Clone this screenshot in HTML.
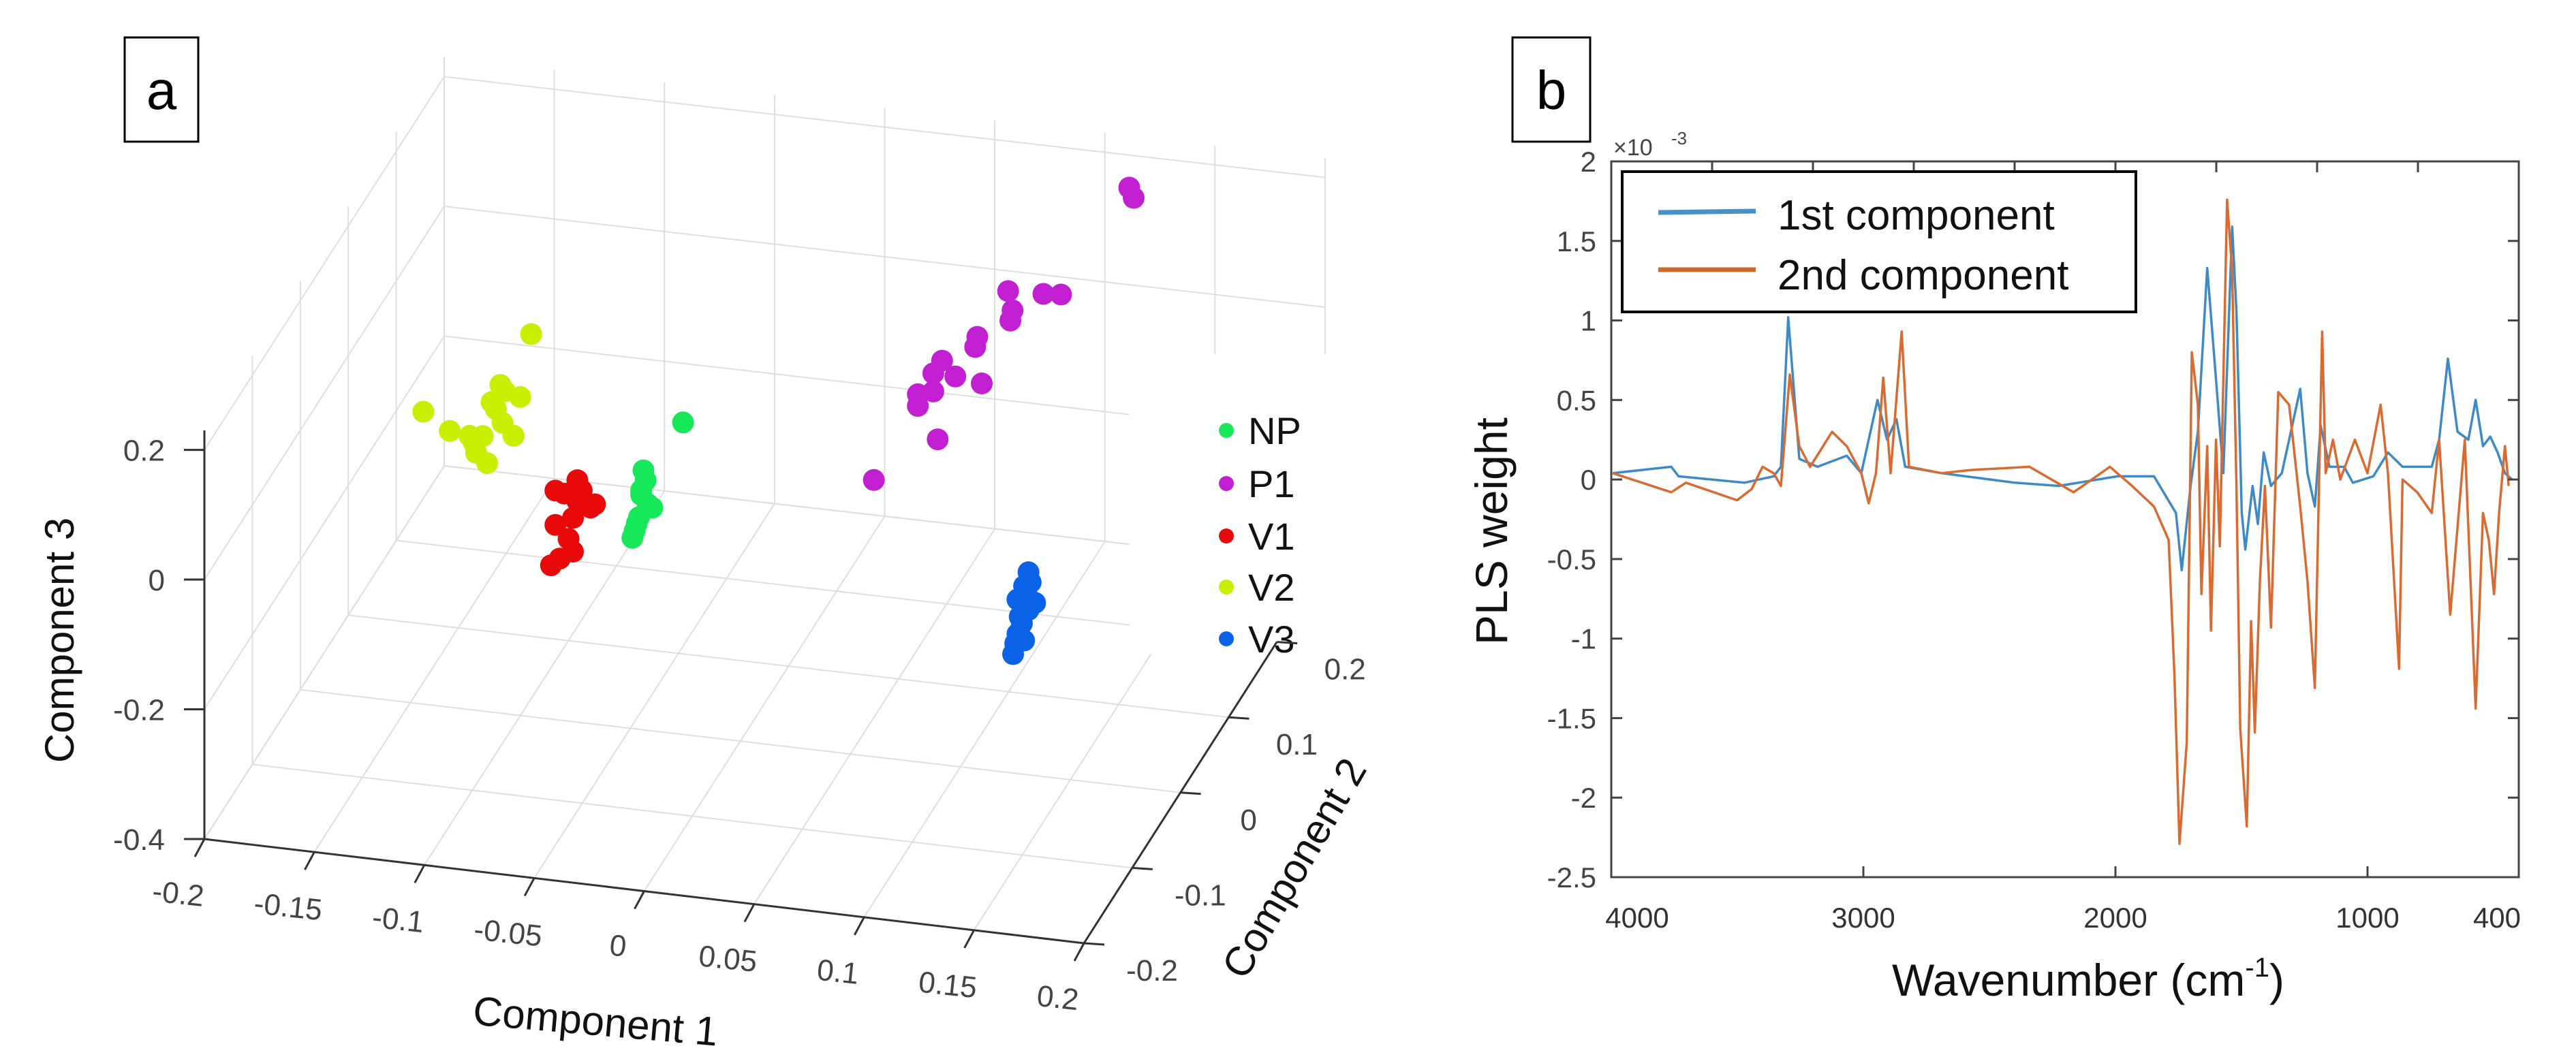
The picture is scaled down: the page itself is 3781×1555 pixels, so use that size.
<!DOCTYPE html>
<html><head><meta charset="utf-8"><style>
html,body{margin:0;padding:0;background:#fff;}
svg{display:block;font-family:"Liberation Sans",sans-serif;}
</style></head><body>
<svg id="fig" width="3781" height="1555" viewBox="0 0 3781 1555" xmlns="http://www.w3.org/2000/svg">
<rect width="3781" height="1555" fill="#fff"/>
<g id="panelA"></g>
<g id="panelB"></g>
</svg>
<script>
// ---------- Panel A data (Component 1, Component 2, Component 3) ----------
const groupNames = ["NP","P1","V1","V2","V3"];
const groupColors = ["#17e85a","#c21fd2","#e80a0a","#c6f000","#0a62e6"];
const npC1 = [-0.055,-0.056,-0.053,-0.057,-0.059,-0.060,-0.051,-0.054,-0.037,-0.056,-0.058];
const npC2 = [0.05,0.05,0.05,0.05,0.05,0.05,0.05,0.05,0.05,0.05,0.05];
const npC3 = [-0.062,-0.093,-0.113,-0.135,-0.157,-0.168,-0.118,-0.077,0.019,-0.100,-0.145];
const p1C1 = [0.122,0.124,0.067,0.069,0.068,0.083,0.091,0.053,0.052,0.037,0.033,0.026,0.026,0.033,0.043,0.055,0.035,0.006];
const p1C2 = [0.25,0.25,0.25,0.25,0.25,0.25,0.25,0.25,0.25,0.25,0.25,0.25,0.25,0.25,0.25,0.25,0.25,0.25];
const p1C3 = [0.212,0.197,0.031,0.002,-0.014,0.033,0.035,-0.045,-0.061,-0.088,-0.109,-0.144,-0.162,-0.137,-0.110,-0.116,-0.210,-0.284];
const v1C1 = [-0.095,-0.085,-0.079,-0.087,-0.095,-0.089,-0.087,-0.093,-0.097,-0.085,-0.091,-0.083,-0.077];
const v1C2 = [0.05,0.05,0.05,0.05,0.05,0.05,0.05,0.05,0.05,0.05,0.05,0.05,0.05];
const v1C3 = [-0.109,-0.089,-0.129,-0.148,-0.162,-0.181,-0.200,-0.213,-0.225,-0.121,-0.112,-0.104,-0.123];
const v2C1 = [-0.106,-0.155,-0.143,-0.120,-0.111,-0.114,-0.126,-0.132,-0.122,-0.119,-0.128,-0.131,-0.124,-0.134,-0.118];
const v2C2 = [0.05,0.05,0.05,0.05,0.05,0.05,0.05,0.05,0.05,0.05,0.05,0.05,0.05,0.05,0.05];
const v2C3 = [0.128,-0.011,-0.036,0.044,0.029,-0.032,-0.079,-0.050,0.006,-0.014,-0.038,-0.065,0.016,-0.040,0.035];
const v3C1 = [0.120,0.118,0.115,0.120,0.117,0.115,0.114,0.118,0.113,0.119,0.123,0.116,0.121];
const v3C2 = [0.05,0.05,0.05,0.05,0.05,0.05,0.05,0.05,0.05,0.05,0.05,0.05,0.05];
const v3C3 = [-0.150,-0.172,-0.194,-0.208,-0.230,-0.247,-0.262,-0.256,-0.279,-0.183,-0.196,-0.220,-0.165];
const c1Ticks = [-0.2,-0.15,-0.1,-0.05,0,0.05,0.1,0.15,0.2];
const c1TickLabels = ["-0.2","-0.15","-0.1","-0.05","0","0.05","0.1","0.15","0.2"];
const c2Ticks = [-0.2,-0.1,0,0.1,0.2,0.3];
const c2TickLabels = ["-0.2","-0.1","0","0.1","0.2",""];
const c3Ticks = [-0.4,-0.2,0,0.2];
const c3TickLabels = ["-0.4","-0.2","0","0.2"];

// ---------- Panel B data ----------
const wn1 = [3994,3762,3733,3472,3356,3327,3298,3254,3182,3066,3008,2944,2906,2869,2834,2689,2399,2225,1992,1847,1760,1737,1702,1673,1636,1601,1572,1537,1520,1499,1485,1456,1435,1412,1383,1340,1267,1238,1209,1186,1151,1093,1058,977,919,861,745,716,681,643,600,571,542,513,484,455,426];
const w1 = [0.04,0.08,0.02,-0.02,0.02,0.08,1.02,0.13,0.08,0.15,0.04,0.50,0.25,0.38,0.08,0.04,-0.02,-0.04,0.02,0.02,-0.21,-0.57,-0.04,0.30,1.33,0.63,0.04,1.59,1.06,-0.21,-0.44,-0.04,-0.28,0.17,-0.04,0.04,0.57,0.04,-0.17,0.34,0.08,0.08,-0.02,0.02,0.17,0.08,0.08,0.25,0.76,0.30,0.25,0.50,0.21,0.27,0.17,0.04,0.0];
const wn2 = [3994,3762,3704,3501,3443,3400,3356,3327,3292,3254,3211,3124,3066,3008,2979,2950,2921,2892,2848,2819,2689,2573,2341,2166,2022,1934,1847,1789,1766,1746,1717,1697,1673,1659,1636,1621,1601,1586,1557,1537,1520,1505,1479,1462,1447,1427,1407,1383,1354,1311,1267,1238,1209,1180,1166,1137,1108,1050,1000,948,919,875,861,803,745,716,672,614,571,542,519,498,478,455,440];
const w2 = [0.04,-0.08,-0.02,-0.13,-0.06,0.08,0.04,-0.04,0.66,0.21,0.08,0.30,0.21,0.04,-0.15,0.04,0.64,0.04,0.93,0.08,0.04,0.06,0.08,-0.08,0.08,-0.04,-0.17,-0.38,-1.23,-2.29,-1.65,0.80,0.47,-0.72,0.21,-0.95,0.25,-0.42,1.76,1.31,-0.04,-1.57,-2.18,-0.89,-1.59,-0.64,-0.04,-0.93,0.55,0.47,-0.17,-0.64,-1.31,0.93,0.04,0.25,0.0,0.25,0.04,0.47,0.04,-1.19,0.0,-0.08,-0.21,0.25,-0.85,0.25,-1.44,-0.21,-0.38,-0.72,-0.21,0.21,-0.04];
const bYTicks = [2,1.5,1,0.5,0,-0.5,-1,-1.5,-2,-2.5];
const bYTickLabels = ["2","1.5","1","0.5","0","-0.5","-1","-1.5","-2","-2.5"];
const bXTicks = [4000,3000,2000,1000,400];
const bXTickLabels = ["4000","3000","2000","1000","400"];
const bTopTicks = [3600,3200,2800,2400,2000,1600,1200,800];

const NS = "http://www.w3.org/2000/svg";
function mk(tag, attrs, parent, text){
  const e = document.createElementNS(NS, tag);
  for (const k in attrs) e.setAttribute(k, attrs[k]);
  if (text !== undefined) e.textContent = text;
  parent.appendChild(e);
  return e;
}

// ===== Panel A =====
const A = document.getElementById('panelA');
const FL=[300,1232], FR=[1591,1385], BL=[652,684], BR=[1945,832];
const H = 600, Z0=-0.4, ZR=0.63;
function P(c1,c2,z){
  const s=(c1+0.2)/0.4, t=(c2+0.2)/0.5;
  const x=(1-s)*(1-t)*FL[0]+s*(1-t)*FR[0]+(1-s)*t*BL[0]+s*t*BR[0];
  const yf=(1-s)*(1-t)*FL[1]+s*(1-t)*FR[1]+(1-s)*t*BL[1]+s*t*BR[1];
  return [x, yf-(z-Z0)/ZR*H];
}
const ZMAX = Z0+ZR;
function ln(p,q,stroke,w,name){
  const e = mk('line',{x1:p[0].toFixed(1),y1:p[1].toFixed(1),x2:q[0].toFixed(1),y2:q[1].toFixed(1),stroke:stroke,'stroke-width':w},A);
  
  
  return e;
}
const gc="#dedede";
c1Ticks.forEach(v=>ln(P(v,-0.2,Z0),P(v,0.3,Z0),gc,2,'floor-grid-line'));
c2Ticks.forEach(v=>ln(P(-0.2,v,Z0),P(0.2,v,Z0),gc,2,'floor-grid-line'));
c1Ticks.forEach(v=>ln(P(v,0.3,Z0),P(v,0.3,ZMAX),gc,2,'back-wall-grid-line'));
c3Ticks.forEach(v=>ln(P(-0.2,0.3,v),P(0.2,0.3,v),gc,2,'back-wall-grid-line'));
c2Ticks.forEach(v=>ln(P(-0.2,v,Z0),P(-0.2,v,ZMAX),gc,2,'left-wall-grid-line'));
c3Ticks.forEach(v=>ln(P(-0.2,-0.2,v),P(-0.2,0.3,v),gc,2,'left-wall-grid-line'));

const groups = [[npC1,npC2,npC3],[p1C1,p1C2,p1C3],[v1C1,v1C2,v1C3],[v2C1,v2C2,v2C3],[v3C1,v3C2,v3C3]];
groups.forEach((g,gi)=>{
  for(let i=0;i<g[0].length;i++){
    const p=P(g[0][i],g[1][i],g[2][i]);
    const c=mk('circle',{cx:p[0].toFixed(1),cy:p[1].toFixed(1),r:16,fill:groupColors[gi]},A);
    
    
  }
});

const lb = mk('rect',{x:1658,y:520,width:360,height:440,fill:'#fff'},A);


const legY=[632,710,787,862,938];
groupNames.forEach((n,i)=>{
  const d=mk('circle',{cx:1800,cy:legY[i],r:11,fill:groupColors[i]},A);
  
  
  const t=mk('text',{x:1832,y:legY[i]+20,'font-size':56,fill:'#111'},A,n);
  
  
});

ln(P(-0.2,-0.2,Z0),P(-0.2,-0.2,ZMAX),"#333",3,'component-3-axis');
ln(P(-0.2,-0.2,Z0),P(0.2,-0.2,Z0),"#333",3,'component-1-axis');
ln(P(0.2,-0.2,Z0),P(0.2,0.2,Z0),"#333",3,'component-2-axis');
c3Ticks.forEach(v=>{const p=P(-0.2,-0.2,v); ln([p[0]-30,p[1]],p,"#333",3,'component-3-tick');});
c1Ticks.forEach(v=>{const p=P(v,-0.2,Z0); ln(p,[p[0]-14,p[1]+26],"#333",3,'component-1-tick');});
c2Ticks.forEach(v=>{if(v<=0.2){const p=P(0.2,v,Z0); ln(p,[p[0]+30,p[1]+2],"#333",3,'component-2-tick');}});

c3Ticks.forEach((v,i)=>{const p=P(-0.2,-0.2,v);
  const t=mk('text',{x:p[0]-58,y:p[1]+16,'font-size':44,fill:'#444','text-anchor':'end'},A,c3TickLabels[i]);
  
  });
c1Ticks.forEach((v,i)=>{const p=P(v,-0.2,Z0);
  const lx=p[0]-40, ly=p[1]+95;
  const t=mk('text',{x:lx,y:ly,'font-size':44,fill:'#444','text-anchor':'middle',transform:'rotate(6 '+lx+' '+ly+')'},A,c1TickLabels[i]);
  
  });
c2Ticks.forEach((v,i)=>{if(c2TickLabels[i]){const p=P(0.2,v,Z0);
  const t=mk('text',{x:p[0]+100,y:p[1]+55,'font-size':44,fill:'#444','text-anchor':'middle'},A,c2TickLabels[i]);
  
  }});

let t;
t=mk('text',{x:874,y:1520,'font-size':60,fill:'#111','text-anchor':'middle',transform:'rotate(5 874 1500)'},A,'Component 1');
 
t=mk('text',{x:1900,y:1295,'font-size':60,fill:'#111','text-anchor':'middle',transform:'rotate(-60 1900 1275)'},A,'Component 2');
 
t=mk('text',{x:128,y:960,'font-size':60,fill:'#111','text-anchor':'middle',transform:'rotate(-90 108 960)'},A,'Component 3');
 
let r=mk('rect',{x:183,y:55,width:108,height:153,fill:'#fff',stroke:'#000','stroke-width':3},A);
 
t=mk('text',{x:237,y:160,'font-size':80,fill:'#000','text-anchor':'middle'},A,'a');
 

// ===== Panel B =====
const B = document.getElementById('panelB');
const L=2365, R=3697, T=237, BOT=1288;
function xb(w){return L+(4000-w)/3600*(R-L);}
function yb(v){return T+(2-v)/4.5*(BOT-T);}
function lnB(x1,y1,x2,y2,stroke,w,name){
  const e=mk('line',{x1:x1,y1:y1,x2:x2,y2:y2,stroke:stroke,'stroke-width':w},B);
  
  
}
function path(wns,vals,color,name){
  let d='';
  for(let i=0;i<wns.length;i++) d+=(i?'L':'M')+xb(wns[i]).toFixed(1)+' '+yb(vals[i]).toFixed(1);
  const e=mk('path',{d:d,fill:'none',stroke:color,'stroke-width':3.5,'stroke-linejoin':'round'},B);
  
  
}
path(wn1,w1,'#3f8ac4','series-1st-component');
path(wn2,w2,'#d86a32','series-2nd-component');
r=mk('rect',{x:L,y:T,width:R-L,height:BOT-T,fill:'none',stroke:'#444','stroke-width':3},B);
 
bYTicks.forEach((v,i)=>{
  const y=yb(v);
  lnB(L,y,L+16,y,'#444',3,'y-tick');
  lnB(R-16,y,R,y,'#444',3,'y-tick');
  const tt=mk('text',{x:L-22,y:y+15,'font-size':42,fill:'#444','text-anchor':'end'},B,bYTickLabels[i]);
   
});
bTopTicks.forEach(v=>{ const x=xb(v); lnB(x,T,x,T+16,'#444',3,'x-top-tick'); });
bXTicks.forEach((v,i)=>{
  const x=xb(v);
  if(v!==4000 && v!==400){ lnB(x,BOT-16,x,BOT,'#444',3,'x-tick'); }
  let lx=x; if(v===4000) lx=x+38; if(v===400) lx=x-32;
  const tt=mk('text',{x:lx,y:1362,'font-size':42,fill:'#333','text-anchor':'middle'},B,bXTickLabels[i]);
   
});
t=mk('text',{x:2368,y:228,'font-size':34,fill:'#444'},B,'\u00d710');
 
t=mk('text',{x:2453,y:212,'font-size':26,fill:'#444'},B,'-3');
 
r=mk('rect',{x:2381,y:252,width:754,height:206,fill:'#fff',stroke:'#000','stroke-width':4},B);
 
lnB(2434,312,2577,310,'#4a90c8',7,'legend-line-1st-component');
lnB(2434,396,2577,396,'#cc6a2c',7,'legend-line-2nd-component');
t=mk('text',{x:2609,y:337,'font-size':62,fill:'#111'},B,'1st component');
 
t=mk('text',{x:2609,y:425,'font-size':62,fill:'#111'},B,'2nd component');
 
t=mk('text',{x:3065,y:1462,'font-size':66,fill:'#111','text-anchor':'middle'},B);
 
t.innerHTML='Wavenumber (cm<tspan font-size="40" dy="-28">-1</tspan><tspan dy="28">)</tspan>';
t=mk('text',{x:2232,y:800,'font-size':66,fill:'#111','text-anchor':'middle',transform:'rotate(-90 2212 800)'},B,'PLS weight');
 
r=mk('rect',{x:2220,y:55,width:114,height:153,fill:'#fff',stroke:'#000','stroke-width':3},B);
 
t=mk('text',{x:2277,y:160,'font-size':80,fill:'#000','text-anchor':'middle'},B,'b');
 
</script>
</body></html>
